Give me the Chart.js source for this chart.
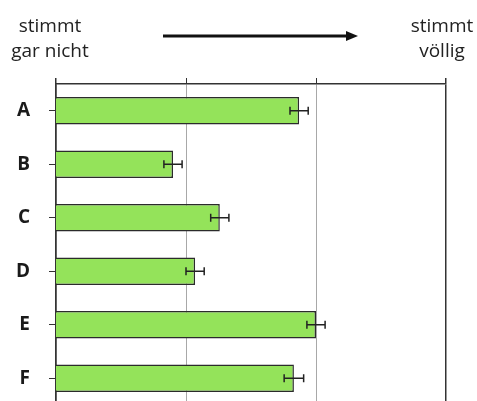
<!DOCTYPE html>
<html>
<head>
<meta charset="utf-8">
<script src="https://cdn.jsdelivr.net/npm/chart.js@4"></script>
<style>
  html, body { margin: 0; padding: 0; background: #fff; overflow: hidden; }
</style>
</head>
<body>
<canvas id="myChart" width="477" height="405"></canvas>
<script>
const categories = ['A', 'B', 'C', 'D', 'E', 'F'];
const means = [2.87, 1.90, 2.26, 2.07, 3.00, 2.83];
const errors = [0.07, 0.07, 0.07, 0.07, 0.07, 0.075];
const scaleTicks = [1, 2, 3, 4];
const leftLabel = ['stimmt', 'gar nicht'];
const rightLabel = ['stimmt', 'völlig'];

const dark = '#333333';
const gray = '#a8a8a8';

// error bars + header texts and arrow
const extras = {
    id: 'extras',
    afterDatasetsDraw(chart) {
        const ctx = chart.ctx;
        const xs = chart.scales.x;
        const meta = chart.getDatasetMeta(0);
        ctx.save();
        ctx.strokeStyle = '#222';
        ctx.lineWidth = 1.5;
        meta.data.forEach((bar, i) => {
            const x1 = xs.getPixelForValue(means[i] - errors[i]);
            const x2 = xs.getPixelForValue(means[i] + errors[i]);
            const y = bar.y;
            ctx.beginPath();
            ctx.moveTo(x1, y); ctx.lineTo(x2, y);
            ctx.moveTo(x1, y - 4); ctx.lineTo(x1, y + 4);
            ctx.moveTo(x2, y - 4); ctx.lineTo(x2, y + 4);
            ctx.stroke();
        });
        ctx.restore();
    },
    afterDraw(chart) {
        const ctx = chart.ctx;
        ctx.save();
        ctx.fillStyle = '#222';
        ctx.font = '19px "Open Sans"';
        ctx.textAlign = 'center';
        ctx.textBaseline = 'alphabetic';
        ctx.fillText(leftLabel[0], 50, 32);
        ctx.fillText(leftLabel[1], 50, 57);
        ctx.fillText(rightLabel[0], 442, 32);
        ctx.fillText(rightLabel[1], 442, 57);

        // arrow
        ctx.strokeStyle = '#111';
        ctx.fillStyle = '#111';
        ctx.lineWidth = 3;
        ctx.beginPath();
        ctx.moveTo(163, 36);
        ctx.lineTo(348, 36);
        ctx.stroke();
        ctx.beginPath();
        ctx.moveTo(358, 36);
        ctx.lineTo(346, 31);
        ctx.lineTo(346, 41);
        ctx.closePath();
        ctx.fill();
        ctx.restore();
    }
};

const data = {
    labels: categories,
    datasets: [{
        data: means,
        backgroundColor: '#94e35a',
        borderColor: '#2b2b2b',
        borderWidth: 1.5,
        categoryPercentage: 1,
        barPercentage: 0.51
    }]
};

const config = {
    type: 'bar',
    data: data,
    options: {
        indexAxis: 'y',
        responsive: false,
        animation: false,
        layout: {
            padding: { top: 78, right: 31, left: 0, bottom: 0 }
        },
        plugins: {
            legend: { display: false },
            tooltip: { enabled: false }
        },
        scales: {
            x: {
                position: 'top',
                min: scaleTicks[0],
                max: scaleTicks[scaleTicks.length - 1],
                afterBuildTicks: (s) => { s.ticks = scaleTicks.map(v => ({ value: v })); },
                afterFit: (s) => { s.height = 6; },
                ticks: { display: false },
                grid: {
                    color: (c) => (c.index === 0 || c.index === scaleTicks.length - 1) ? dark : gray,
                    lineWidth: (c) => (c.index === 0 || c.index === scaleTicks.length - 1) ? 1.5 : 1,
                    tickColor: dark,
                    tickLength: 6
                },
                border: { display: true, color: dark, width: 1.5 }
            },
            y: {
                afterFit: (s) => {
                    s.width = 56;
                    s.paddingTop = 0;
                    s.paddingBottom = 0;
                },
                ticks: {
                    color: '#1a1a1a',
                    font: { family: 'Open Sans', size: 19, weight: 'bold' },
                    padding: 19
                },
                grid: {
                    offset: false,
                    drawOnChartArea: false,
                    drawTicks: true,
                    tickLength: 7,
                    tickColor: dark
                },
                border: { display: true, color: dark, width: 1.5 }
            }
        }
    },
    plugins: [extras]
};

const myChart = new Chart(document.getElementById('myChart'), config);
</script>
</body>
</html>
